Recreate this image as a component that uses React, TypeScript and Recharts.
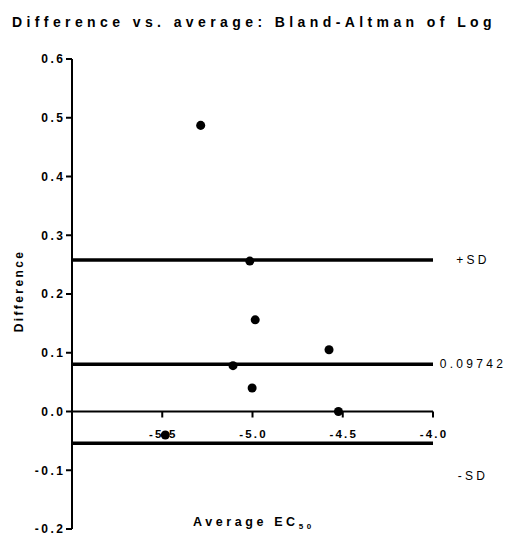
import React from 'react';
import { ScatterChart, Scatter, XAxis, YAxis, ZAxis, ReferenceLine, ReferenceDot } from 'recharts';

// Bland-Altman points (average log EC50 vs difference)
const AVG_EC50 = [-5.287, -5.015, -4.985, -4.576, -5.108, -5.002, -4.524, -5.483];
const DIFFERENCE = [0.487, 0.256, 0.156, 0.105, 0.078, 0.04, 0.0, -0.04];

// bias and limits lines, as drawn
const LIMIT_VALUES = [0.258, 0.0806, -0.054];
const LIMIT_LABELS = ['+SD', '0.09742', '-SD'];
const LIMIT_LABEL_DY = [4.5, 3.5, 37];

const X_TICKS = [-5.5, -5.0, -4.5, -4.0];
const Y_TICKS = [-0.2, -0.1, 0, 0.1, 0.2, 0.3, 0.4, 0.5, 0.6];

const FONT = 'Arial, "Liberation Sans", sans-serif';

const points = AVG_EC50.map((x, i) => ({ x, y: DIFFERENCE[i] }));

function XTickMark(props: any) {
    const { cx, cy, label } = props;
    return (
        <g>
            <line x1={cx} y1={cy} x2={cx} y2={cy + 6} stroke="#000" strokeWidth={2} />
            <text
                x={cx + 1}
                y={cy + 26.5}
                textAnchor="middle"
                style={{ fontFamily: FONT, fontSize: 11.5, fontWeight: 700, letterSpacing: 2.2 }}
                fill="#000"
            >
                {label}
            </text>
        </g>
    );
}

function YTick(props: any) {
    const { x, y, payload } = props;
    return (
        <text
            x={x + 1.5}
            y={y}
            dy="0.36em"
            textAnchor="end"
            style={{ fontFamily: FONT, fontSize: 12, fontWeight: 700, letterSpacing: 2.5 }}
            fill="#000"
        >
            {Number(payload.value).toFixed(1)}
        </text>
    );
}

function limitLabel(text: string, dy: number) {
    return (props: any) => {
        const vb = props.viewBox || {};
        return (
            <text
                x={vb.x + vb.width + 40}
                y={vb.y + dy}
                textAnchor="middle"
                style={{ fontFamily: FONT, fontSize: 12, letterSpacing: 3.3 }}
                fill="#000"
            >
                {text}
            </text>
        );
    };
}

export default function App() {
    return (
        <div style={{ position: 'absolute', left: 0, top: 0, width: 509, height: 535, background: '#fff' }}>
            <ScatterChart width={509} height={535} margin={{ top: 59, right: 76, bottom: 6, left: 12 }}>
                <XAxis type="number" dataKey="x" domain={[-6, -4]} hide />
                <YAxis
                    type="number"
                    dataKey="y"
                    domain={[-0.2, 0.6]}
                    ticks={Y_TICKS}
                    width={60}
                    interval={0}
                    tick={<YTick />}
                    axisLine={{ stroke: '#000', strokeWidth: 2 }}
                    tickLine={{ stroke: '#000', strokeWidth: 2 }}
                    tickSize={6}
                    tickMargin={2}
                />
                <ZAxis range={[80, 80]} />
                <ReferenceLine y={0} stroke="#000" strokeWidth={2} />
                {X_TICKS.map((t) => (
                    <ReferenceDot
                        key={t}
                        x={t}
                        y={0}
                        r={0}
                        shape={(p: any) => <XTickMark {...p} label={t.toFixed(1)} />}
                    />
                ))}
                {LIMIT_VALUES.map((v, i) => (
                    <ReferenceLine
                        key={LIMIT_LABELS[i]}
                        y={v}
                        stroke="#000"
                        strokeWidth={3.5}
                        label={limitLabel(LIMIT_LABELS[i], LIMIT_LABEL_DY[i])}
                    />
                ))}
                <Scatter data={points} fill="#000" isAnimationActive={false} />
            </ScatterChart>
            <svg
                width={509}
                height={535}
                style={{ position: 'absolute', left: 0, top: 0, pointerEvents: 'none' }}
            >
                <text
                    x={254}
                    y={27}
                    textAnchor="middle"
                    style={{ fontFamily: FONT, fontSize: 14, fontWeight: 700, letterSpacing: 4.4 }}
                >
                    Difference vs. average: Bland-Altman of Log
                </text>
                <text
                    x={23}
                    y={291}
                    textAnchor="middle"
                    transform="rotate(-90, 23, 291)"
                    style={{ fontFamily: FONT, fontSize: 12, fontWeight: 700, letterSpacing: 2.4 }}
                >
                    Difference
                </text>
                <text x={193} y={526} style={{ fontFamily: FONT, fontSize: 12.5, fontWeight: 700, letterSpacing: 3.6 }}>
                    Average EC
                    <tspan dy={3} style={{ fontSize: 8 }}>50</tspan>
                </text>
            </svg>
        </div>
    );
}
